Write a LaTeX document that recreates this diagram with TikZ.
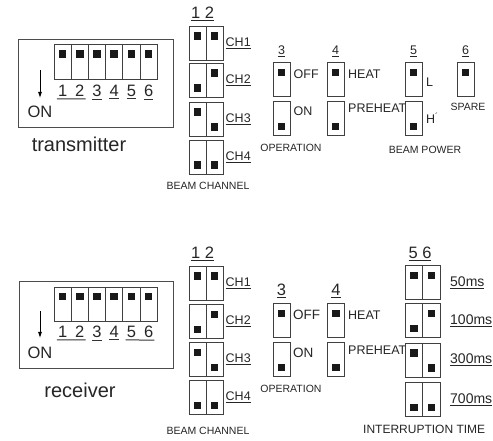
\documentclass[tikz,border=0pt]{standalone}
\usepackage{fontspec}
\setmainfont{Liberation Sans}
\usetikzlibrary{arrows.meta,positioning}
\newcommand{\ulbl}[1]{\setbox0\hbox{#1}\rlap{\rule[-2.6pt]{\wd0}{0.9pt}}\box0}

\begin{document}
\begin{tikzpicture}[x=1pt,y=-1pt,
  frame/.style={draw=black!70, line width=0.8pt},
  cell/.style={draw=black!75, line width=0.8pt, minimum width=17pt, minimum height=34pt, inner sep=0pt, outer sep=0pt},
  dipcell/.style={cell, minimum width=17.2pt, minimum height=35pt},
  dot/.style={fill=black!90, minimum size=7.5pt, inner sep=0pt},
  lab/.style={font=\fontsize{12.5}{13}\selectfont, text=black!85, inner sep=0pt},
  tiny/.style={font=\fontsize{10.5}{11}\selectfont, text=black!85, inner sep=0pt},
  num/.style={font=\fontsize{16.5}{17}\selectfont, text=black!85, inner sep=0pt},
  big/.style={font=\fontsize{20}{20}\selectfont, text=black!85, inner sep=0pt},
  uline/.style={draw=black!80, line width=1pt}]
\useasboundingbox[fill=white] (0,0) rectangle (493,440);

% transmitter dip switch
\draw[frame] (18,39) rectangle (173,127);
\foreach \i in {1,...,6} {
  \node[dipcell] (td\i) at ({54+17.2*(\i-0.5)},62) {};
  \node[dot, below=5.5pt of td\i.north] (tdd\i) {};
  \node[num, below=5pt of td\i.south] (tn\i) {\i};
}
\draw[uline] ([xshift=-1pt,yshift=-2.5pt]tn1.south west) -- ([xshift=1pt,yshift=-2.5pt]tn2.south east);
\foreach \i in {3,...,6}
  \draw[uline] ([yshift=-2.5pt]tn\i.south west) -- ([yshift=-2.5pt]tn\i.south east);
\coordinate (tarr) at (40,70);
\node[num] (ton) at (40,112) {ON};
\draw[-{Latex[length=6pt,width=4pt]}, line width=0.8pt] (tarr) -- ([yshift=8pt]ton.north);
\node[big] (ttx) at (79,144) {transmitter};

% transmitter beam channel (offsets: -7 top, 8 bottom)
\node[num] (tch) at (202.5,14) {\ulbl{1 2}};
\foreach \y/\da/\db [count=\i] in {43/-7/-7, 80/8/-7, 119/-7/8, 157/8/8} {
  \node[cell] (tcl\i) at (197.5,\y) {};
  \node[cell] (tcr\i) at (214.5,\y) {};
  \node[dot] (tcld\i) at (197.5,\y+\da) {};
  \node[dot] (tcrd\i) at (214.5,\y+\db) {};
  \node[lab, right=2.5pt of tcr\i] (tcn\i) {\ulbl{CH\i}};
}
\node[tiny] (tbc) at (208,186) {BEAM CHANNEL};

% transmitter switches 3-6
\foreach \n/\x in {3/281.5, 4/335.5, 5/413.5} {
  \node[cell] (t\n a) at (\x,79.5) {};
  \node[cell] (t\n b) at (\x,118.5) {};
  \node[dot] (t\n ad) at (\x,72.5) {};
  \node[dot] (t\n bd) at (\x,126.5) {};
  \node[lab, above=5pt of t\n a] (t\n n) {\ulbl{\n}};
}
\node[cell] (t6a) at (465.5,79.5) {};
\node[dot] (t6ad) at (465.5,72.5) {};
\node[lab, above=5pt of t6a] (t6n) {\ulbl{6}};
\node[lab, right=3.5pt of t3a, yshift=5pt] (toff) {OFF};
\node[lab, right=3.5pt of t3b, yshift=7pt] (tonl) {ON};
\node[lab, right=4pt of t4a, yshift=5pt] (theat) {HEAT};
\node[lab, right=4pt of t4b, yshift=10pt] (tpre) {PREHEAT};
\node[lab, right=4pt of t5a, yshift=-3pt] (tlow) {L};
\node[lab, right=4pt of t5b] (thigh) {H\textsuperscript{´}};
\node[tiny] (top) at (291,148) {OPERATION};
\node[tiny] (tbp) at (425,150) {BEAM POWER};
\node[tiny] (tsp) at (468,107) {SPARE};

% receiver dip switch
\draw[frame] (19,281) rectangle (173,368);
\foreach \i in {1,...,6} {
  \node[dipcell, minimum height=34pt] (rd\i) at ({54+17.2*(\i-0.5)},304) {};
  \node[dot, below=5.5pt of rd\i.north] (rdd\i) {};
  \node[num, below=4.5pt of rd\i.south] (rn\i) {\i};
}
\draw[uline] ([xshift=-1pt,yshift=-2.5pt]rn1.south west) -- ([xshift=1pt,yshift=-2.5pt]rn2.south east);
\draw[uline] ([yshift=-2.5pt]rn3.south west) -- ([yshift=-2.5pt]rn3.south east);
\draw[uline] ([yshift=-2.5pt]rn4.south west) -- ([yshift=-2.5pt]rn4.south east);
\draw[uline] ([xshift=-1pt,yshift=-2.5pt]rn5.south west) -- ([xshift=1pt,yshift=-2.5pt]rn6.south east);
\coordinate (rarr) at (40,311);
\node[num] (ron) at (40,353) {ON};
\draw[-{Latex[length=6pt,width=4pt]}, line width=0.8pt] (rarr) -- ([yshift=9pt]ron.north);
\node[big] (rrx) at (80,390) {receiver};

% receiver beam channel
\node[num] (rch) at (202.5,254) {\ulbl{1 2}};
\foreach \y/\da/\db [count=\i] in {283/-7/-7, 321.5/8/-7, 359.5/-7/8, 397.5/8/8} {
  \node[cell] (rcl\i) at (197.5,\y) {};
  \node[cell] (rcr\i) at (214.5,\y) {};
  \node[dot] (rcld\i) at (197.5,\y+\da) {};
  \node[dot] (rcrd\i) at (214.5,\y+\db) {};
  \node[lab, right=2.5pt of rcr\i] (rcn\i) {\ulbl{CH\i}};
}
\node[tiny] (rbc) at (208,431) {BEAM CHANNEL};

% receiver switches 3-4
\foreach \n/\x in {3/281.5, 4/336} {
  \node[cell] (r\n a) at (\x,320.5) {};
  \node[cell] (r\n b) at (\x,359.5) {};
  \node[dot] (r\n ad) at (\x,313.5) {};
  \node[dot] (r\n bd) at (\x,367.5) {};
  \node[num, above=5pt of r\n a] (r\n n) {\ulbl{\n}};
}
\node[lab, right=3pt of r3a, yshift=5.5pt, font=\fontsize{13.5}{14}\selectfont] (roff) {OFF};
\node[lab, right=3pt of r3b, yshift=6.5pt, font=\fontsize{13.5}{14}\selectfont] (ronl) {ON};
\node[lab, right=3.5pt of r4a, yshift=5.5pt] (rheat) {HEAT};
\node[lab, right=3.5pt of r4b, yshift=9.5pt] (rpre) {PREHEAT};
\node[tiny] (rop) at (291,389) {OPERATION};

% receiver interruption time
\node[num] (rit) at (420,254) {\ulbl{5 6}};
\foreach \y/\da/\db/\t [count=\i] in {282.5/-7/-7/50ms, 320.5/8/-7/100ms, 360/-7/8/300ms, 399.5/8/8/700ms} {
  \node[cell, minimum width=17.5pt] (ril\i) at (413.75,\y) {};
  \node[cell, minimum width=17.5pt] (rir\i) at (431.25,\y) {};
  \node[dot] (rild\i) at (413.75,\y+\da) {};
  \node[dot] (rird\i) at (431.25,\y+\db) {};
  \node[lab, right=10pt of rir\i, font=\fontsize{14}{15}\selectfont] (rin\i) {\ulbl{\t}};
}
\node[lab, anchor=west, font=\fontsize{12}{12}\selectfont] (rti) at (363,429) {INTERRUPTION TIME};
\end{tikzpicture}
\end{document}
